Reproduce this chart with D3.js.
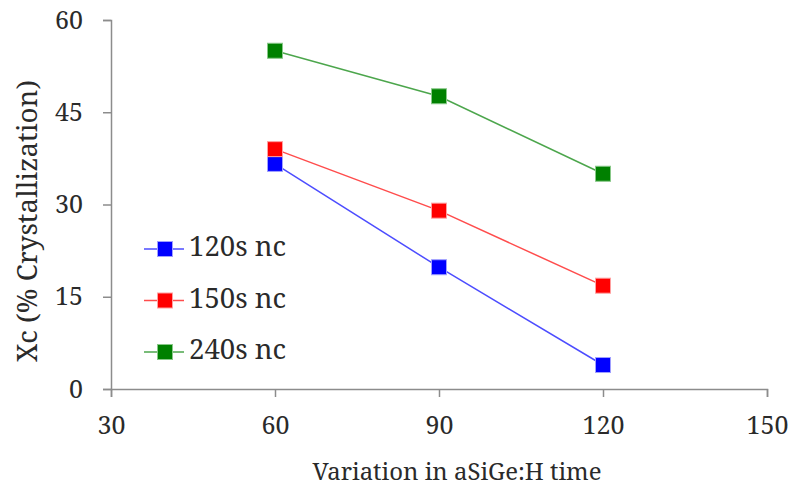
<!DOCTYPE html>
<html>
<head>
<meta charset="utf-8">
<script src="https://cdn.jsdelivr.net/npm/d3@7"></script>
<style>
  html, body { margin: 0; padding: 0; background: #fff; }
</style>
</head>
<body>
<svg id="chart" width="794" height="489"></svg>
<script>
// Deposition time of the aSiGe:H layer (x) and crystallization fraction (y)
const xValues = [60, 90, 120];
const seriesNames = ["120s nc", "150s nc", "240s nc"];
const series120 = [36.6, 19.8, 3.9];
const series150 = [39.0, 29.0, 16.8];
const series240 = [55.0, 47.6, 35.0];
const seriesColors = ["#0000ff", "#ff0000", "#008000"];
const seriesStrokes = ["#a0a0ff", "#ffa0a0", "#88c888"];
const xTicks = [30, 60, 90, 120, 150];
const yTicks = [0, 15, 30, 45, 60];
const xTitle = "Variation in aSiGe:H time";
const yTitle = "Xc (% Crystallization)";

const FONT = '"Noto Serif", "DejaVu Serif", "Liberation Serif"';
const TEXT_COLOR = "#2a2a2a";

const series = [series120, series150, series240].map((vals, i) => ({
  name: seriesNames[i],
  color: seriesColors[i],
  stroke: seriesStrokes[i],
  points: vals.map((v, j) => ({ x: xValues[j], y: v }))
}));

const svg = d3.select("#chart");
const plot = { left: 111, right: 767, top: 20, bottom: 389 };

const x = d3.scaleLinear().domain([30, 150]).range([plot.left, plot.right]);
const y = d3.scaleLinear().domain([0, 60]).range([plot.bottom, plot.top]);

const axisColor = "#8c8c8c";

// scale a text element's font size so it spans the given width
function fitWidth(sel, width) {
  const node = sel.node();
  const fs = parseFloat(sel.style("font-size"));
  const w = node.getComputedTextLength();
  if (w > 0) sel.style("font-size", (fs * width / w).toFixed(2) + "px");
  return sel;
}

// y axis
const gy = svg.append("g")
  .attr("transform", `translate(${plot.left},0)`)
  .call(d3.axisLeft(y).tickValues(yTicks).tickSize(8).tickPadding(20));
// x axis
const gx = svg.append("g")
  .attr("transform", `translate(0,${plot.bottom})`)
  .call(d3.axisBottom(x).tickValues(xTicks).tickSize(8).tickPadding(19));

[gx, gy].forEach(g => {
  g.select(".domain").attr("stroke", axisColor).attr("stroke-width", 1.5);
  g.selectAll(".tick line").attr("stroke", axisColor).attr("stroke-width", 1.5);
  g.selectAll(".tick text")
    .style("font-family", FONT)
    .style("font-size", "25px")
    .attr("fill", TEXT_COLOR);
});

// axis titles
const xt = svg.append("text")
  .attr("x", 457).attr("y", 480)
  .attr("text-anchor", "middle")
  .style("font-family", FONT).style("font-size", "24px")
  .attr("fill", TEXT_COLOR)
  .text(xTitle);
fitWidth(xt, 289);

const yt = svg.append("text")
  .attr("transform", "translate(37,221) rotate(-90)")
  .attr("text-anchor", "middle")
  .style("font-family", FONT).style("font-size", "24px")
  .attr("fill", TEXT_COLOR)
  .text(yTitle);
fitWidth(yt, 282);

// series lines and square markers
const line = d3.line().x(d => x(d.x)).y(d => y(d.y));
const markerSize = 15;

const sg = svg.append("g").selectAll("g").data(series).join("g");
sg.append("path")
  .attr("d", d => line(d.points))
  .attr("fill", "none")
  .attr("stroke", d => d.color)
  .attr("stroke-opacity", 0.7)
  .attr("stroke-width", 1.5);
sg.selectAll("rect").data(d => d.points.map(p => ({ ...p, color: d.color, stroke: d.stroke })))
  .join("rect")
  .attr("x", d => x(d.x) - markerSize / 2)
  .attr("y", d => y(d.y) - markerSize / 2)
  .attr("width", markerSize).attr("height", markerSize)
  .attr("fill", d => d.color)
  .attr("stroke", d => d.stroke)
  .attr("stroke-width", 1);

// legend
const legend = svg.append("g").attr("transform", "translate(144,249)");
const row = legend.selectAll("g").data(series).join("g")
  .attr("transform", (d, i) => `translate(0,${i * 51.5})`);
row.append("line")
  .attr("x1", 0).attr("x2", 40).attr("y1", 0).attr("y2", 0)
  .attr("stroke", d => d.color).attr("stroke-opacity", 0.7).attr("stroke-width", 1.5);
row.append("rect")
  .attr("x", 21 - markerSize / 2).attr("y", -markerSize / 2)
  .attr("width", markerSize).attr("height", markerSize)
  .attr("fill", d => d.color).attr("stroke", d => d.stroke).attr("stroke-width", 1);
row.append("text")
  .attr("x", 45).attr("y", 7)
  .style("font-family", FONT).style("font-size", "26px")
  .attr("fill", TEXT_COLOR)
  .text(d => d.name)
  .each(function () { fitWidth(d3.select(this), 97); });
</script>
</body>
</html>
